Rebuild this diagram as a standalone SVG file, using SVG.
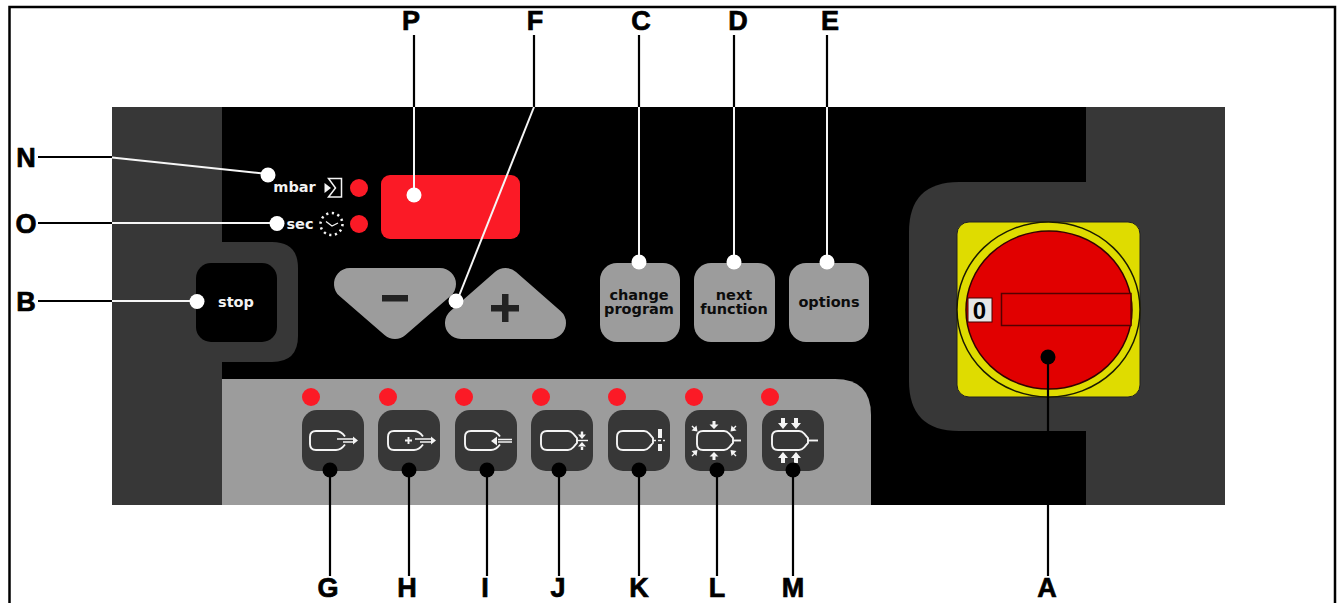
<svg xmlns="http://www.w3.org/2000/svg" width="1342" height="603" viewBox="0 0 1342 603">
<style>
.lbl{font-family:"Liberation Sans",Arial,sans-serif;font-weight:700;font-size:27px;fill:#000;text-anchor:middle;stroke:#000;stroke-width:.7}
.btxt{font-family:"DejaVu Sans",Verdana,sans-serif;font-weight:700;font-size:14.5px;fill:#0c0c0c;text-anchor:middle}
.wtxt{font-family:"DejaVu Sans",Verdana,sans-serif;font-weight:700;font-size:14.5px;fill:#f2f2f2;text-anchor:middle}
.dk{fill:#373737}.gr{fill:#9c9c9c}.led{fill:#fb1a26}
.k{stroke:#000;fill:none;stroke-width:2.2}.w{stroke:#f6f6f6;fill:none;stroke-width:2}
.ic{stroke:#f4f4f4;fill:none;stroke-width:1.9}
.thin{stroke:#f4f4f4;fill:none;stroke-width:1.4}
.ar{fill:#f4f4f4}
.tri{fill:#9c9c9c;stroke:#9c9c9c;stroke-width:32;stroke-linejoin:round}
</style>
<defs>
<rect id="btn" width="62" height="61" rx="15" class="dk"/>
<path id="openTank" class="ic" d="M35 5.500Q31 0 26 0H6Q0 0 0 6V13Q0 19 6 19H26Q31 19 35 13.500"/>
<path id="closedTank" class="ic" d="M6 0H27Q30 0 32 2.500L36 7V12L32 16.500Q30 19 27 19H6Q0 19 0 13V6Q0 0 6 0Z"/>
</defs>
<rect width="1342" height="603" fill="#fff"/>
<path d="M9.500 603V7H1335V603" fill="none" stroke="#000" stroke-width="2.500"/>
<g id="panel">
<rect x="112" y="107" width="1113" height="398" fill="#000"/>
<rect x="112" y="107" width="110" height="398" class="dk"/>
<rect x="1086" y="107" width="139" height="398" class="dk"/>
<path d="M222 242H272Q298 242 298 268V336Q298 362 272 362H222Z" class="dk"/>
<path d="M1086 182H959Q909 182 909 232V381Q909 431 959 431H1086Z" class="dk"/>
<path d="M222 505V379H835Q871 379 871 415V505Z" class="gr"/>
</g>
<g id="display"><rect x="381" y="175" width="139" height="64" rx="9" class="led"/></g>
<g id="indicators">
<circle cx="359" cy="188" r="9" class="led"/><circle cx="359" cy="224" r="9" class="led"/>
<text x="294.500" y="192" class="wtxt">mbar</text>
<text x="300" y="228.500" class="wtxt">sec</text>
<path d="M328.500 178.500H341.500V197H328.500L335.500 188Z" fill="none" stroke="#f4f4f4" stroke-width="1.500"/>
<path d="M324.500 183L331 188L324.500 193Z" fill="#f4f4f4"/>
<circle cx="331.500" cy="224" r="11" fill="none" stroke="#f4f4f4" stroke-width="2.500" stroke-dasharray="2.200 3.560"/>
<path d="M326 221.500L332 226L338 223" fill="none" stroke="#f4f4f4" stroke-width="1.300"/>
</g>
<g id="stop"><rect x="196" y="263" width="81" height="79" rx="15" fill="#000"/><text x="236" y="307" class="wtxt">stop</text></g>
<g id="minus">
<path d="M350 284H440L395 323Z" class="tri"/>
<rect x="382" y="295" width="26" height="6.500" fill="#222"/>
</g>
<g id="plus">
<path d="M461 323H550L505.500 284Z" class="tri"/>
<rect x="491" y="305" width="28" height="6.500" fill="#222"/><rect x="502" y="294" width="6.500" height="28" fill="#222"/>
</g>
<g id="change"><rect x="600" y="263" width="80" height="79" rx="17" class="gr"/><text x="639" y="300" class="btxt">change</text><text x="639" y="314" class="btxt">program</text></g>
<g id="next"><rect x="694" y="263" width="81" height="79" rx="17" class="gr"/><text x="734" y="300" class="btxt">next</text><text x="734" y="314" class="btxt">function</text></g>
<g id="options"><rect x="789" y="263" width="80" height="79" rx="17" class="gr"/><text x="829" y="307" class="btxt">options</text></g>
<g id="leds">
<circle cx="311" cy="397" r="9" class="led"/><circle cx="388" cy="397" r="9" class="led"/><circle cx="464" cy="397" r="9" class="led"/><circle cx="541" cy="397" r="9" class="led"/><circle cx="617" cy="397" r="9" class="led"/><circle cx="694" cy="397" r="9" class="led"/><circle cx="770" cy="397" r="9" class="led"/>
</g>
<g id="btnG"><use href="#btn" x="302" y="410"/>
<use href="#openTank" x="310" y="431"/>
<path d="M337 439H354M343 442H354" class="thin"/><path d="M353 436.500L358 440.500L353 444.500Z" class="ar"/></g>
<g id="btnH"><use href="#btn" x="378" y="410"/>
<use href="#openTank" x="388" y="431"/>
<path d="M405 440.500H412M408.500 437V444" class="ic"/><path d="M415 439H431M420 442H431" class="thin"/><path d="M431 436.500L436 440.500L431 444.500Z" class="ar"/></g>
<g id="btnI"><use href="#btn" x="455" y="410"/>
<use href="#openTank" x="465" y="431"/>
<path d="M498 439.500H512M498 442H512" class="thin"/><path d="M491 441L497 436.500V445.500Z" class="ar"/></g>
<g id="btnJ"><use href="#btn" x="531" y="410"/>
<use href="#closedTank" x="541" y="431"/>
<path d="M577 440.500H588" class="thin"/>
<path d="M578 434.500H586L582 439ZM578 446.500H586L582 442ZM580.800 431.500H583.200V435H580.800ZM580.800 446H583.200V450H580.800Z" class="ar"/></g>
<g id="btnK"><use href="#btn" x="608" y="410"/>
<use href="#closedTank" x="617" y="431"/>
<path d="M653 440.500H665" class="thin" stroke-dasharray="3 2"/>
<path d="M658 429H662V438H658ZM658 444H662V451H658Z" class="ar"/></g>
<g id="btnL"><use href="#btn" x="685" y="410"/>
<use href="#closedTank" x="697" y="431"/>
<path d="M733 440.500H741" class="ic"/>
<path d="M714 429L709.500 424.500H712.500V421H715.500V424.500H718.500ZM714 452L709.500 456.500H712.500V460H715.500V456.500H718.500Z" class="ar"/>
<path d="M697.500 431.500L696.500 425.500L691.500 430.500ZM730.500 431.500L731.500 425.500L736.500 430.500ZM697.500 450L696.500 456L691.500 451ZM730.500 450L731.500 456L736.500 451Z" class="ar"/>
<path d="M692 426L696 430M736 426L732 430M692 456L696 452M736 456L732 452" class="thin"/>
</g>
<g id="btnM"><use href="#btn" x="762" y="410"/>
<use href="#closedTank" x="772" y="431"/>
<path d="M808 440.500H818" class="ic"/>
<path d="M783 429L778 423H781V418H785V423H788ZM796 429L791 423H794V418H798V423H801ZM783 452L778 458H781V463H785V458H788ZM796 452L791 458H794V463H798V458H801Z" class="ar"/></g>
<g id="switch">
<rect x="957" y="222" width="183" height="175" rx="12" fill="#dfdc00" stroke="#222" stroke-width="1"/>
<ellipse cx="1048.500" cy="309.500" rx="91.500" ry="87.500" fill="#dfdc00" stroke="#1a1a00" stroke-width="1.500"/>
<ellipse cx="1049" cy="310" rx="83" ry="79" fill="#e10000" stroke="#300" stroke-width="1.500"/>
<rect x="1001.500" y="293.500" width="129.500" height="32" fill="#e10000" stroke="#500" stroke-width="1.500"/>
<rect x="968" y="298" width="24" height="24" fill="#e6e6e6" stroke="#400" stroke-width="1"/>
<text x="979.500" y="318.500" font-family="Liberation Sans,sans-serif" font-size="24" font-weight="700" text-anchor="middle" fill="#000">0</text>
</g>
<g id="connectors">
<path class="k" d="M38 157H112M38 223H112M38 301H112M414 35V107M534 35V107M639 35V107M734 35V107M827 35V107"/>
<path class="k" d="M330 471V576M409 471V576M487 471V576M559 471V576M639 471V576M717 471V576M793 471V576M1048 357V431"/>
<path class="k" d="M1048 505V576"/>
<path class="w" d="M112 157.500L268 174M112 223H277M112 301H197M414 107V195M639 107V262M734 107V262M827 107V262"/>
<path class="w" d="M534 107L457 301" stroke-width="1.500"/>
<g fill="#fff">
<circle cx="268" cy="175" r="7.500"/><circle cx="277" cy="223.500" r="7.500"/><circle cx="197" cy="301.500" r="7.500"/><circle cx="414" cy="195" r="7.500"/><circle cx="456" cy="301" r="7.500"/><circle cx="639" cy="262" r="7.500"/><circle cx="734" cy="262" r="7.500"/><circle cx="827" cy="262" r="7.500"/>
</g>
<g fill="#000">
<circle cx="330" cy="470" r="7.500"/><circle cx="409" cy="470" r="7.500"/><circle cx="487" cy="470" r="7.500"/><circle cx="559" cy="470" r="7.500"/><circle cx="639" cy="470" r="7.500"/><circle cx="717" cy="470" r="7.500"/><circle cx="793" cy="470" r="7.500"/><circle cx="1048" cy="357" r="7.500"/>
</g>
</g>
<g id="labels">
<text x="26" y="167" class="lbl">N</text><text x="26" y="233" class="lbl">O</text><text x="26" y="311" class="lbl">B</text>
<text x="411" y="30" class="lbl">P</text><text x="535" y="30" class="lbl">F</text><text x="641" y="30" class="lbl">C</text><text x="738" y="30" class="lbl">D</text><text x="830" y="30" class="lbl">E</text>
<text x="328" y="597" class="lbl">G</text><text x="407" y="597" class="lbl">H</text><text x="485" y="597" class="lbl">I</text><text x="558" y="597" class="lbl">J</text><text x="639" y="597" class="lbl">K</text><text x="717" y="597" class="lbl">L</text><text x="793" y="597" class="lbl">M</text><text x="1047" y="597" class="lbl">A</text>
</g>
</svg>
